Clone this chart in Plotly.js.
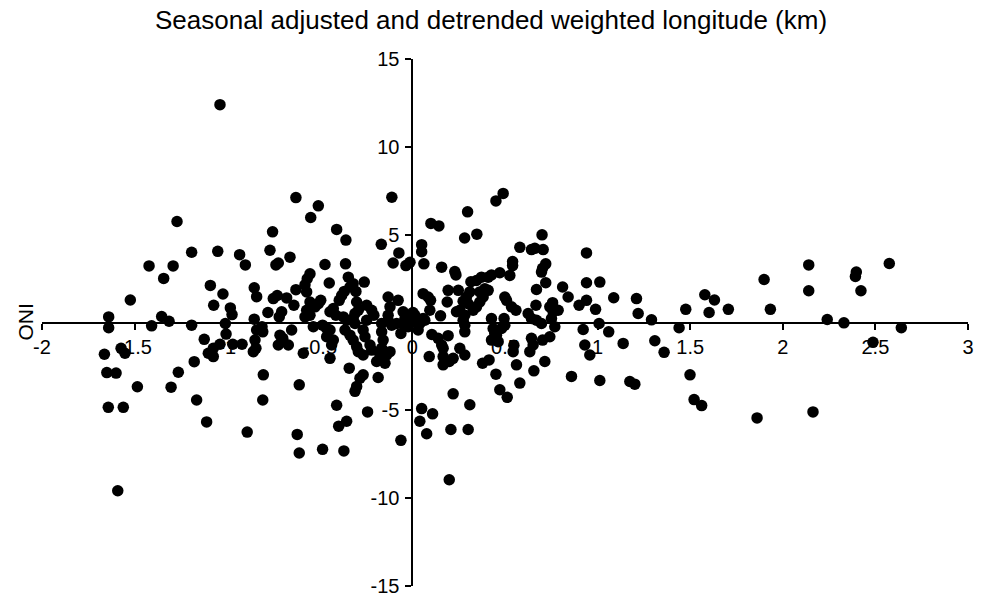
<!DOCTYPE html>
<html>
<head>
<meta charset="utf-8">
<script src="https://cdn.plot.ly/plotly-3.0.1.min.js"></script>
<style>html,body{margin:0;padding:0;background:#fff;}#chart{width:988px;height:598px;}</style>
</head>
<body>
<div id="chart"></div>
<script>
// Detrended weighted longitude (x) vs ONI (y)
const lonValues = [
-1.039,-1.271,-1.192,-1.051,-1.422,-1.292,-1.343,-1.523,-1.640,-1.640,-1.354,-1.314,-1.408,-1.192,-1.091,-1.023,-1.073,-0.983,-0.974,-1.010,-0.933,-0.902,-0.854,-0.841,-0.854,-0.812,-0.780,-0.769,
-0.629,-0.508,-0.549,-0.755,-0.409,-0.359,-0.111,-0.168,0.100,0.143,0.050,0.282,0.348,0.298,0.451,0.490,
0.700,0.580,0.643,0.661,0.706,1.579,1.631,1.602,1.706,1.476,1.291,1.440,1.219,
1.899,1.933,2.140,2.140,2.240,2.330,2.397,2.392,2.422,2.575,2.640,
2.487,1.861,2.163,
1.309,1.359,1.499,1.521,1.562,0.512,
-1.006,-1.124,-1.663,-1.573,-1.552,-1.650,-1.600,-1.485,-1.642,-1.561,-1.591,-1.264,-1.303,-1.178,-1.165,-1.111,-1.102,-1.075,-1.075,-1.039,-0.970,-0.920,-0.859,-0.845,-0.850,-0.808,-0.841,-0.805,-0.808,-0.892,
-0.242,-0.409,-0.398,-0.355,-0.622,-0.611,-0.485,-0.370,-0.062,0.050,0.109,0.040,0.077,0.310,0.208,0.301,0.199,
-0.661,-0.737,-0.724,-0.472,-0.361,-0.073,-0.104,-0.035,-0.013,
-0.553,-0.568,-0.449,-0.346,-0.320,-0.337,-0.260,-0.580,-0.571,-0.629,-0.368,-0.382,-0.395,-0.305,-0.730,-0.679,-0.751,
-0.553,-0.526,-0.508,-0.495,-0.640,-0.706,-0.719,-0.571,-0.580,-0.553,-0.427,-0.445,-0.413,-0.301,-0.292,-0.310,-0.247,-0.220,-0.208,-0.131,-0.077,-0.121,-0.131,-0.050,-0.023,-0.040,
-0.373,-0.355,-0.320,-0.310,-0.247,-0.166,-0.131,-0.112,-0.085,-0.050,-0.004,-0.535,-0.485,-0.463,-0.652,-0.715,-0.700,-0.670,-0.724,-0.589,-0.445,-0.463,-0.427,-0.436,-0.445,-0.364,-0.337,-0.320,-0.301,-0.292,-0.266,-0.266,-0.256,-0.229,-0.220,-0.166,-0.158,-0.166,-0.175,-0.139,-0.121,-0.193,-0.148,-0.341,-0.266,-0.283,-0.185,-0.301,-0.310,-0.611,-0.023,-0.062,
0.050,0.062,0.158,0.229,0.235,0.541,0.541,0.526,0.472,0.427,0.409,0.373,0.346,0.316,0.720,0.703,0.697,0.720,0.670,0.940,0.940,1.012,0.811,0.841,1.087,1.210,0.940,0.900,0.989,1.008,0.922,1.060,1.138,0.931,0.958,0.859,1.012,1.174,1.201,
0.058,0.085,0.098,0.193,0.248,0.188,0.310,0.292,0.274,0.301,0.364,0.391,0.409,0.382,0.364,0.346,0.328,0.256,0.238,0.283,0.499,0.508,0.535,0.559,0.667,0.625,0.643,0.670,0.697,0.757,0.742,0.760,0.787,0.751,0.769,0.152,0.094,0.058,0.013,0.003,0.040,0.067,0.031,0.274,0.283,0.283,0.427,0.436,0.445,0.427,0.495,0.499,0.481,0.454,0.463,0.139,0.158,0.166,0.193,0.091,0.166,0.166,0.199,0.220,0.256,0.283,0.379,0.414,0.451,0.472,0.544,0.562,0.580,0.643,0.652,0.634,0.656,0.703,0.742,0.715,0.220,0.548,0.105
];
const oniValues = [
12.40,5.75,4.00,4.05,3.22,3.22,2.51,1.28,0.32,-0.30,0.34,0.07,-0.19,-0.15,2.11,1.62,0.98,0.83,0.45,-0.06,3.86,3.28,1.98,1.47,0.19,-0.24,0.57,4.11,
7.11,6.64,5.98,5.16,5.30,4.69,7.13,4.45,5.64,5.50,4.43,4.81,5.03,6.30,6.92,7.35,
4.99,4.28,4.15,4.22,4.15,1.58,1.28,0.57,0.75,0.75,0.15,-0.30,0.51,
2.45,0.75,3.28,1.81,0.17,-0.02,2.87,2.62,1.81,3.36,-0.30,
-1.13,-5.43,-5.09,
-1.04,-1.70,-2.98,-4.39,-4.73,-4.26,
-0.66,-0.96,-1.81,-1.47,-1.75,-2.85,-2.88,-3.66,-4.83,-4.83,-9.58,-2.83,-3.68,-2.23,-4.41,-5.66,-1.75,-1.94,-1.47,-1.24,-1.24,-1.24,-1.66,-1.47,-1.00,-0.53,-0.43,-2.98,-4.41,-6.24,
-5.09,-4.71,-5.90,-5.62,-6.37,-7.43,-7.22,-7.31,-6.71,-4.90,-5.20,-5.62,-6.33,-4.68,-6.09,-6.09,-8.95,
3.72,3.28,3.39,3.30,3.34,3.96,3.39,3.24,3.43,
2.77,2.49,2.25,2.58,2.21,2.02,2.30,2.15,1.74,1.87,1.77,1.54,1.26,1.77,1.54,1.40,1.36,
1.17,0.89,1.07,1.26,0.98,0.61,0.32,0.70,0.32,0.41,0.79,0.61,0.41,1.17,0.70,0.51,0.98,0.70,0.41,1.45,1.26,0.89,0.41,0.61,0.41,0.23,
0.32,0.13,0.23,-0.06,0.13,-0.06,0.13,-0.15,-0.06,-0.06,0.04,-0.24,-0.15,-0.34,-0.43,-0.72,-0.90,-1.28,-1.28,-1.75,-0.43,-0.81,-1.00,-1.28,-2.04,-0.43,-0.72,-1.00,-1.37,-1.66,-1.85,-0.43,-0.81,-1.28,-1.57,-0.53,-1.00,-1.47,-1.85,-1.85,-1.66,-2.22,-2.32,-2.60,-2.98,-3.17,-3.13,-3.64,-3.92,-3.55,-0.24,-0.62,
4.03,3.34,3.15,2.90,2.71,3.47,3.24,2.68,2.83,2.71,2.58,2.58,2.39,2.32,3.34,3.09,2.87,2.26,1.88,3.96,2.26,2.30,2.02,1.45,1.41,1.36,1.26,0.98,0.75,-0.06,-0.40,-0.53,-1.19,-1.28,-1.85,-3.07,-3.30,-3.36,-3.51,
1.64,1.45,1.26,1.83,1.83,1.17,1.74,1.45,1.21,1.07,1.74,1.92,1.83,1.45,1.17,0.89,0.70,0.70,0.61,0.41,1.45,1.26,0.89,0.70,0.98,0.51,0.23,0.13,-0.06,1.13,0.89,0.61,0.70,0.23,-0.24,0.38,0.70,0.23,0.41,0.57,-0.06,0.13,-0.43,0.13,-0.15,-0.53,0.23,-0.34,-0.62,-1.00,0.23,-0.15,-0.34,-0.72,-1.09,-0.90,-1.28,-1.47,-0.75,-1.94,-1.94,-2.41,-2.22,-2.04,-1.47,-1.85,-2.32,-2.13,-2.94,-3.83,-1.66,-2.41,-3.45,-0.90,-1.28,-1.66,-2.75,-1.00,-0.81,-2.22,-4.06,-1.30,-0.68
];
const xRange = [-2, 3];
const yRange = [-15, 15];
const xTickVals = [-2, -1.5, -1, -0.5, 0, 0.5, 1, 1.5, 2, 2.5, 3];
const xTickText = ['-2', '-1.5', '-1', '-0.5', '0', '0.5', '1', '1.5', '2', '2.5', '3'];
const yTickVals = [-15, -10, -5, 5, 10, 15];
const yTickText = ['-15', '-10', '-5', '5', '10', '15'];
const titleText = 'Seasonal adjusted and detrended weighted longitude (km)';
const yLabel = 'ONI';

const FONT = 'Liberation Sans, Arial, Helvetica, sans-serif';

const trace = {
  type: 'scatter', mode: 'markers',
  x: lonValues, y: oniValues,
  marker: {color: '#000', size: 11.5, line: {width: 0}},
  hoverinfo: 'skip', cliponaxis: false
};

const axisCommon = {
  showline: true, linecolor: '#000', linewidth: 2,
  ticks: 'outside', ticklen: 6, tickwidth: 2, tickcolor: '#000',
  showgrid: false, zeroline: false, anchor: 'free',
  layer: 'below traces', tickfont: {size: 20, color: '#000', family: FONT},
  ticklabeloverflow: 'allow', fixedrange: true
};

const layout = {
  width: 988, height: 598,
  margin: {l: 42, r: 20, t: 59, b: 12, pad: 0},
  paper_bgcolor: '#fff', plot_bgcolor: '#fff',
  showlegend: false,
  font: {family: FONT, size: 20, color: '#000'},
  title: {text: titleText, font: {size: 26, color: '#000', family: FONT},
          x: 0.497, xanchor: 'center', xref: 'container',
          y: 0.966, yanchor: 'middle', yref: 'container'},
  xaxis: Object.assign({}, axisCommon, {
    range: xRange,
    position: (0 - yRange[0]) / (yRange[1] - yRange[0]),
    tickmode: 'array', tickvals: xTickVals, ticktext: xTickText
  }),
  yaxis: Object.assign({}, axisCommon, {
    range: yRange,
    position: (0 - xRange[0]) / (xRange[1] - xRange[0]),
    tickmode: 'array', tickvals: yTickVals, ticktext: yTickText,
    ticklabelstandoff: 2
  }),
  annotations: [{
    text: yLabel, textangle: -90, showarrow: false,
    xref: 'paper', x: 0, xanchor: 'center', xshift: -17,
    yref: 'paper', y: (0 - yRange[0]) / (yRange[1] - yRange[0]), yanchor: 'middle',
    font: {size: 21, color: '#000', family: FONT}
  }]
};

Plotly.newPlot('chart', [trace], layout, {staticPlot: true, displayModeBar: false});
</script>
</body>
</html>
